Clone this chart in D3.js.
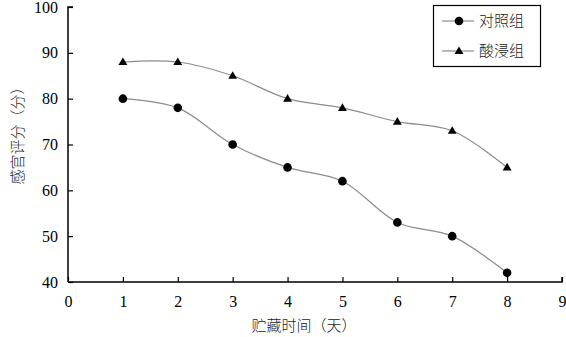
<!DOCTYPE html>
<html>
<head>
<meta charset="utf-8">
<script src="https://cdn.jsdelivr.net/npm/d3@7"></script>
<style>
  body { margin: 0; background: #fff; }
  svg { display: block; }
</style>
</head>
<body>
<div id="chart"></div>
<script>
var days = [1, 2, 3, 4, 5, 6, 7, 8]
var control = [80, 78, 70, 65, 62, 53, 50, 42]
var acid = [88, 88, 85, 80, 78, 75, 73, 65]
var xTicks = [0, 1, 2, 3, 4, 5, 6, 7, 8, 9]
var yTicks = [40, 50, 60, 70, 80, 90, 100]
var seriesNames = ["对照组", "酸浸组"]

var width = 566, height = 337
var margin = {left: 68, right: 5, top: 7, bottom: 55}

var svg = d3.select("#chart").append("svg")
    .attr("width", width)
    .attr("height", height)

var x = d3.scaleLinear().domain([0, 9]).range([margin.left, 562])
var y = d3.scaleLinear().domain([40, 100]).range([282, margin.top])

var numFont = "'Liberation Serif', 'Times New Roman', serif"
var cjkFont = "'Noto Sans CJK SC', sans-serif"

// axes, ticks pointing inward
var xAxis = svg.append("g")
    .attr("transform", "translate(0," + y(40) + ")")
    .call(d3.axisBottom(x).tickValues(xTicks).tickSize(-5).tickPadding(14))
var yAxis = svg.append("g")
    .attr("transform", "translate(" + x(0) + ",0)")
    .call(d3.axisLeft(y).tickValues(yTicks).tickSize(-5).tickPadding(10))

;[xAxis, yAxis].forEach(function (g) {
  g.select(".domain").attr("stroke", "#000").attr("stroke-width", 1.5)
  g.selectAll(".tick line").attr("stroke", "#000").attr("stroke-width", 1.2)
  g.selectAll(".tick text")
    .attr("font-family", numFont)
    .attr("font-size", 16)
    .attr("fill", "#000")
})
xAxis.select(".domain").attr("d", "M" + x(0) + ",0H" + x(9) + "V-5")
yAxis.select(".domain").attr("d", "M5," + y(100) + "H0V" + y(40))

var line = d3.line()
    .x(function (d, i) { return x(days[i]) })
    .y(function (d) { return y(d) })
    .curve(d3.curveCatmullRom.alpha(0.5))

;[control, acid].forEach(function (s) {
  svg.append("path")
    .attr("d", line(s))
    .attr("fill", "none")
    .attr("stroke", "#8c8c8c")
    .attr("stroke-width", 1.2)
})

var circleSym = d3.symbol().type(d3.symbolCircle).size(58)
var triSym = d3.symbol().type(d3.symbolTriangle).size(34)

svg.append("g").selectAll("path")
  .data(control)
  .join("path")
    .attr("d", circleSym)
    .attr("transform", function (d, i) { return "translate(" + x(days[i]) + "," + y(d) + ")" })
    .attr("fill", "#000")

svg.append("g").selectAll("path")
  .data(acid)
  .join("path")
    .attr("d", triSym)
    .attr("transform", function (d, i) { return "translate(" + x(days[i]) + "," + (y(d) + 0.5) + ")" })
    .attr("fill", "#000")

// axis titles
svg.append("text")
  .attr("x", 304)
  .attr("y", 331)
  .attr("text-anchor", "middle")
  .attr("font-family", cjkFont)
  .attr("font-weight", 300)
  .attr("font-size", 15)
  .attr("fill", "#222")
  .text("贮藏时间（天）")

svg.append("text")
  .attr("transform", "translate(23,132) rotate(-90)")
  .attr("text-anchor", "middle")
  .attr("font-family", cjkFont)
  .attr("font-weight", 300)
  .attr("font-size", 15)
  .attr("fill", "#222")
  .text("感官评分（分）")

// legend
var legend = svg.append("g")
legend.append("rect")
  .attr("x", 433.5).attr("y", 5.5)
  .attr("width", 107).attr("height", 61)
  .attr("fill", "#fff")
  .attr("stroke", "#000")
  .attr("stroke-width", 1.2)

var legRows = [21, 51]
seriesNames.forEach(function (name, i) {
  var gy = legRows[i]
  legend.append("line")
    .attr("x1", 442).attr("x2", 474)
    .attr("y1", gy).attr("y2", gy)
    .attr("stroke", "#8c8c8c")
    .attr("stroke-width", 1.2)
  legend.append("path")
    .attr("d", i === 0 ? circleSym() : triSym())
    .attr("transform", "translate(459," + (gy + (i === 0 ? 0 : 0.5)) + ")")
    .attr("fill", "#000")
  legend.append("text")
    .attr("x", 479).attr("y", gy)
    .attr("dy", "0.36em")
    .attr("font-family", cjkFont)
    .attr("font-weight", 300)
    .attr("font-size", 15)
    .attr("fill", "#222")
    .text(name)
})
</script>
</body>
</html>
